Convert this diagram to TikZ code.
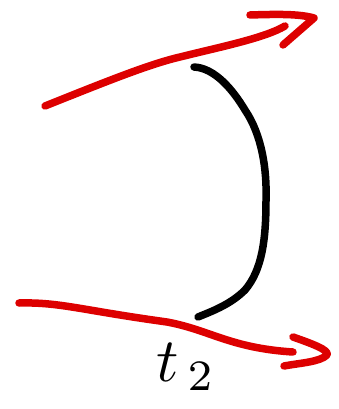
\documentclass[tikz,border=0pt]{standalone}
\usetikzlibrary{calc}
\definecolor{penred}{RGB}{221,0,0}
\tikzset{
  redstroke/.style={draw=penred, line width=7.5pt, line cap=round, line join=round},
  blackstroke/.style={draw=black, line width=7.5pt, line cap=round, line join=round},
  lbl/.style={inner sep=0pt, scale=6.2}
}
\begin{document}
\begin{tikzpicture}[x=1pt,y=-1pt]
\useasboundingbox (0,0) rectangle (339,409);
% top arrow
\coordinate (a1) at (45,106);
\coordinate (a2) at (285,26);
\coordinate (h1s) at (250,15);
\coordinate (h1t) at (314,18);
\coordinate (h1e) at (283,45);
\draw[redstroke] (a1) .. controls (110,80) and (150,64) .. (180,57)
  .. controls (220,47) and (265,38) .. (a2);
\draw[redstroke] (h1s) .. controls (280,14) and (300,14) .. (h1t) -- (h1e);
% bottom arrow
\coordinate (b1) at (19,303);
\coordinate (b2) at (293,352);
\coordinate (h2s) at (293,337);
\coordinate (h2t) at (327,355);
\coordinate (h2e) at (284,366);
\draw[redstroke] (b1) .. controls (60,302) and (80,310) .. (167,322)
  .. controls (210,330) and (230,348) .. (b2);
\draw[redstroke] (h2s) .. controls (310,343) and (330,350) .. (h2t) .. controls (320,362) and (300,363) .. (h2e);
% black arc
\coordinate (c1) at (194,67);
\coordinate (c2) at (198,317);
\draw[blackstroke] (c1) .. controls (215,68) and (233,90) .. (245,110)
  .. controls (262,135) and (267,170) .. (266,200)
  .. controls (266,240) and (262,270) .. (245,290)
  .. controls (230,305) and (210,312) .. (c2);
% label
\node[lbl] (t) at (186,367) {$t_{\,2}$};
\end{tikzpicture}
\end{document}
